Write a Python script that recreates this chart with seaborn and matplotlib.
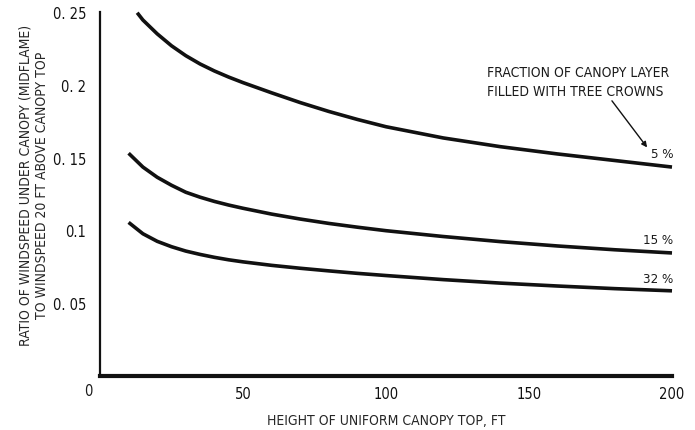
import matplotlib
matplotlib.use("Agg")
import matplotlib.pyplot as plt
import seaborn as sns
import pandas as pd

# ---- data ----
heights_5 = [13, 15, 20, 25, 30, 35, 40, 45, 50, 60, 70, 80, 90, 100, 120, 140, 160, 180, 200]
heights = [10, 15, 20, 25, 30, 35, 40, 45, 50, 60, 70, 80, 90, 100, 120, 140, 160, 180, 200]
ratio_5 = [0.2495, 0.2445, 0.235, 0.2268, 0.2200, 0.2143, 0.2095, 0.2053, 0.2015, 0.1945, 0.1878,
           0.1817, 0.1762, 0.1712, 0.1635, 0.1575, 0.1525, 0.148, 0.1435]
ratio_15 = [0.153, 0.1435, 0.1365, 0.131, 0.1262, 0.1228, 0.1199, 0.1174, 0.1152, 0.1112, 0.1078,
            0.1048, 0.1022, 0.0998, 0.0958, 0.0923, 0.0893, 0.0867, 0.0845]
ratio_32 = [0.1055, 0.0977, 0.0925, 0.0888, 0.0858, 0.0835, 0.0815, 0.0798, 0.0784, 0.0760, 0.0740,
            0.0722, 0.0705, 0.0690, 0.0662, 0.0638, 0.0618, 0.0600, 0.0585]
series_labels = ["5 %", "15 %", "32 %"]
x_ticks = [50, 100, 150, 200]
y_ticks = [0.05, 0.1, 0.15, 0.2, 0.25]
y_tick_labels = ["0. 05", "0.1", "0. 15", "0. 2", "0. 25"]

df = pd.concat([
    pd.DataFrame({"height": heights_5, "ratio": ratio_5, "fraction": series_labels[0]}),
    pd.DataFrame({"height": heights, "ratio": ratio_15, "fraction": series_labels[1]}),
    pd.DataFrame({"height": heights, "ratio": ratio_32, "fraction": series_labels[2]}),
])

sns.set_style("white")
plt.rcParams["font.family"] = ["DejaVu Sans"]
plt.rcParams["font.stretch"] = "condensed"
plt.rcParams["text.color"] = "#1a1a1a"

fig = plt.figure(figsize=(6.95, 4.31), dpi=100)
ax = fig.add_axes([100 / 695, (431 - 377) / 431, 572 / 695, 364 / 431])

sns.lineplot(data=df, x="height", y="ratio", hue="fraction",
             palette=["#111111"] * 3, linewidth=2.6, legend=False, ax=ax,
             estimator=None, sort=True)
for ln in ax.lines:
    ln.set_clip_on(False)
    ln.set_solid_capstyle("butt")
    ln.set_solid_joinstyle("round")

ax.set_xlim(0, 200)
ax.set_ylim(0, 0.25)
ax.set_xticks(x_ticks)
ax.set_xticklabels([str(t) for t in x_ticks])
ax.set_yticks(y_ticks)
ax.set_yticklabels(y_tick_labels)

ax.tick_params(axis="x", direction="in", length=9, width=1.0, pad=7,
               labelsize=10.5, colors="#111111")
ax.tick_params(axis="y", direction="in", length=8, width=1.2, pad=10,
               labelsize=10.5, colors="#111111")

for s in ["top", "right"]:
    ax.spines[s].set_visible(False)
ax.spines["left"].set_linewidth(1.6)
ax.spines["left"].set_color("#111111")
ax.spines["bottom"].set_linewidth(3.0)
ax.spines["bottom"].set_color("#111111")

ax.set_xlabel("HEIGHT OF UNIFORM CANOPY TOP, FT", fontsize=10, labelpad=9)
ax.set_ylabel("RATIO OF WINDSPEED UNDER CANOPY (MIDFLAME)\nTO WINDSPEED 20 FT ABOVE CANOPY TOP",
              fontsize=10, linespacing=1.2)
ax.yaxis.set_label_coords(-0.09, 0.527)

ax.text(-4.2, -0.0103, "0", ha="center", va="center", fontsize=10.5, clip_on=False)

# curve labels
ax.text(200.5, 0.1525, series_labels[0], ha="right", va="center", fontsize=9.5)
ax.text(200.5, 0.094, series_labels[1], ha="right", va="center", fontsize=9.5)
ax.text(200.5, 0.0673, series_labels[2], ha="right", va="center", fontsize=9.5)

ax.text(135.3, 0.2088, "FRACTION OF CANOPY LAYER", ha="left", va="center", fontsize=10)
ax.text(135.3, 0.1957, "FILLED WITH TREE CROWNS", ha="left", va="center", fontsize=10)
ax.annotate("", xy=(191.3, 0.157), xytext=(179, 0.189),
            arrowprops=dict(arrowstyle="-|>", color="#111111", lw=1.0,
                            mutation_scale=8, shrinkA=0, shrinkB=0))

fig.savefig("out.png", dpi=100)
